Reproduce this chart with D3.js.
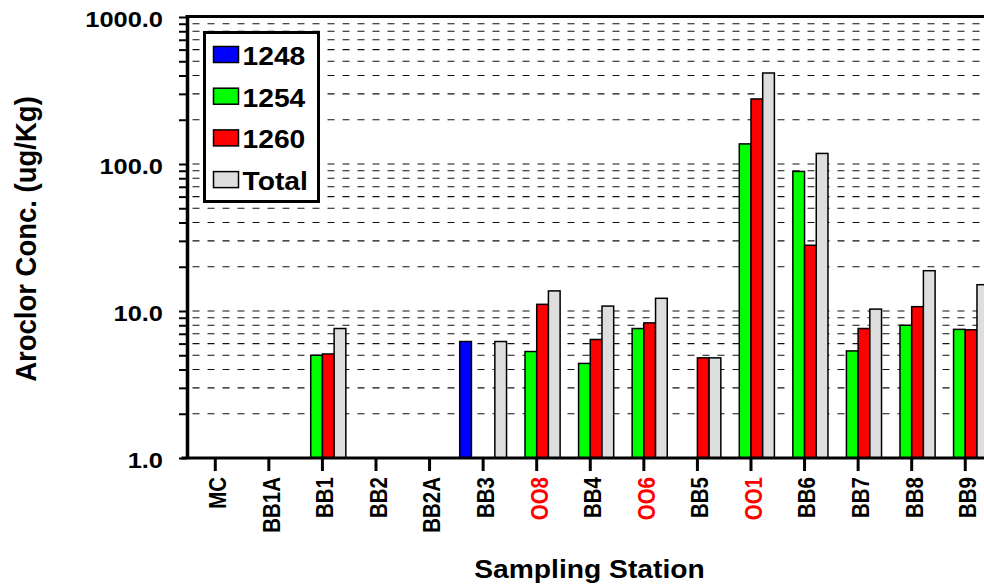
<!DOCTYPE html>
<html>
<head>
<meta charset="utf-8">
<script src="https://cdn.jsdelivr.net/npm/d3@7"></script>
<style>
  body { margin: 0; background: #fff; }
  text { font-family: "Liberation Sans", Arial, sans-serif; font-weight: bold; }
</style>
</head>
<body>
<div id="chart"></div>
<script>
// data
var stations = ["MC", "BB1A", "BB1", "BB2", "BB2A", "BB3", "OO8", "BB4", "OO6", "BB5", "OO1", "BB6", "BB7", "BB8", "BB9"];
var redStations = ["OO8", "OO6", "OO1"];
var seriesNames = ["1248", "1254", "1260", "Total"];
var seriesColors = ["#0000ff", "#00ff00", "#ff0000", "#dedede"];
var a1248 = [null, null, null, null, null, 6.2, null, null, null, null, null, null, null, null, null];
var a1254 = [null, null, 5.0, null, null, null, 5.3, 4.4, 7.6, null, 137, 89, 5.35, 8.0, 7.5];
var a1260 = [null, null, 5.1, null, null, null, 11.1, 6.4, 8.3, 4.8, 277, 28, 7.6, 10.7, 7.45];
var aTotal = [null, null, 7.6, null, null, 6.2, 13.7, 10.8, 12.2, 4.8, 416, 118, 10.3, 18.8, 15.1];
var yTickLabels = ["1.0", "10.0", "100.0", "1000.0"];

var allSeries = [a1248, a1254, a1260, aTotal];
var W = 984, H = 588;
var sx = 1.13; // the picture is a bit wider than tall

var svg = d3.select("#chart").append("svg")
    .attr("width", W)
    .attr("height", H);

var step = 53.57, left = 188.5;
var x = d3.scaleBand()
    .domain(stations)
    .range([left, left + stations.length * step])
    .paddingInner(0.126)
    .paddingOuter(0.063);
var x1 = d3.scaleBand()
    .domain(seriesNames)
    .range([0, x.bandwidth()]);
var y = d3.scaleLog()
    .domain([1, 1000])
    .range([458, 17]);

// minor/major tick values
var tickVals = [];
[1, 10, 100].forEach(function(dec) {
  for (var k = 1; k < 10; k++) tickVals.push(dec * k);
});
tickVals.push(1000);

// dashed grid
svg.append("g").selectAll("line")
  .data(tickVals.filter(function(v) { return v > 1 && v < 1000; }))
  .enter().append("line")
    .attr("x1", left + 4)
    .attr("x2", W)
    .attr("y1", function(d) { return y(d); })
    .attr("y2", function(d) { return y(d); })
    .attr("stroke", "#111")
    .attr("stroke-width", 1.1)
    .attr("stroke-dasharray", "7,8");

// bars
var barData = [];
stations.forEach(function(st, i) {
  seriesNames.forEach(function(s, j) {
    var v = allSeries[j][i];
    if (v != null) barData.push({station: st, series: s, value: v, color: seriesColors[j]});
  });
});
svg.append("g").selectAll("rect")
  .data(barData)
  .enter().append("rect")
    .attr("x", function(d) { return x(d.station) + x1(d.series); })
    .attr("y", function(d) { return y(d.value); })
    .attr("width", x1.bandwidth())
    .attr("height", function(d) { return y(1) - y(d.value); })
    .attr("fill", function(d) { return d.color; })
    .attr("stroke", "#000")
    .attr("stroke-width", 1.5);

// y axis
var yAxis = svg.append("g")
  .attr("transform", "translate(" + (left - 1.5) + ",0)")
  .call(d3.axisLeft(y).tickValues(tickVals).tickSize(8).tickSizeOuter(0).tickFormat(""));
yAxis.select(".domain").attr("stroke-width", 3.5);
yAxis.selectAll(".tick line").attr("stroke-width", 2);

svg.append("g").selectAll("text")
  .data([1, 10, 100, 1000])
  .enter().append("text")
    .attr("transform", function(d) { return "translate(163," + (y(d) + 10) + ") scale(" + sx + ",1)"; })
    .attr("text-anchor", "end")
    .attr("font-size", 22.5)
    .text(function(d, i) { return yTickLabels[i]; });

// top frame line
svg.append("line")
  .attr("x1", left - 3).attr("x2", W)
  .attr("y1", y.range()[1] - 0.5).attr("y2", y.range()[1] - 0.5)
  .attr("stroke", "#000").attr("stroke-width", 3);

// x axis
var xAxis = svg.append("g")
  .attr("transform", "translate(0," + y(1) + ")")
  .call(d3.axisBottom(x).tickSize(13).tickSizeOuter(0).tickFormat(""));
xAxis.select(".domain").remove();
xAxis.selectAll(".tick line").attr("stroke-width", 3);
svg.append("line")
  .attr("x1", left - 7).attr("x2", W)
  .attr("y1", y(1)).attr("y2", y(1))
  .attr("stroke", "#000").attr("stroke-width", 3);

svg.append("g").selectAll("text")
  .data(stations)
  .enter().append("text")
    .attr("transform", function(d) {
      return "translate(" + (x(d) + x.bandwidth() / 2 + 2.5) + ",477) scale(" + sx + ",1) rotate(-90)";
    })
    .attr("text-anchor", "end")
    .attr("dy", "0.36em")
    .attr("font-size", 20.5)
    .attr("fill", function(d) { return redStations.indexOf(d) >= 0 ? "#ff0000" : "#000"; })
    .text(function(d) { return d; });

// axis titles
svg.append("text")
  .attr("transform", "translate(589.5,578) scale(" + sx + ",1)")
  .attr("text-anchor", "middle")
  .attr("font-size", 25)
  .text("Sampling Station");

svg.append("text")
  .attr("transform", "translate(35.5,239) scale(1.06,1) rotate(-90)")
  .attr("text-anchor", "middle")
  .attr("font-size", 27.5)
  .text("Aroclor Conc. (ug/Kg)");

// legend
var legend = svg.append("g").attr("transform", "translate(204.5,32.5)");
legend.append("rect")
  .attr("width", 114).attr("height", 169)
  .attr("fill", "#fff").attr("stroke", "#000").attr("stroke-width", 3);
var items = legend.selectAll(".item")
  .data(seriesNames)
  .enter().append("g")
    .attr("transform", function(d, i) { return "translate(9," + (14 + i * 41.7) + ")"; });
items.append("rect")
  .attr("width", 25).attr("height", 16)
  .attr("fill", function(d, i) { return seriesColors[i]; })
  .attr("stroke", "#000").attr("stroke-width", 1.5);
items.append("text")
  .attr("transform", "translate(29,18.5) scale(" + sx + ",1)")
  .attr("font-size", 25)
  .text(function(d) { return d; });
</script>
</body>
</html>
